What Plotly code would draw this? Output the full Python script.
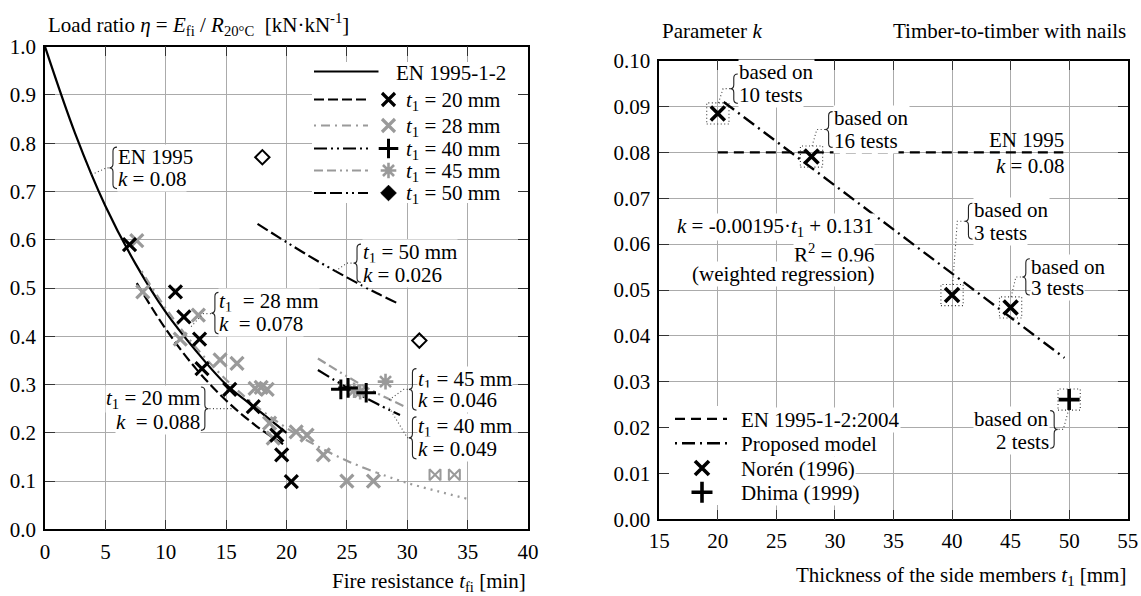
import plotly.graph_objects as go

W, H = 1141, 596
FONT = "Liberation Serif"
FS = 21
GRAY = "#9a9a9a"
DOT = "1px,2.5px"

# ---------------- Left chart data ----------------
left_xticks = [0, 5, 10, 15, 20, 25, 30, 35, 40]
left_yticks = [0.0, 0.1, 0.2, 0.3, 0.4, 0.5, 0.6, 0.7, 0.8, 0.9, 1.0]

en_t = [0, 2.5, 5, 7.5, 10, 12.5, 15, 17.5, 20]
en_eta = [1.0, 0.82, 0.67, 0.55, 0.45, 0.37, 0.30, 0.25, 0.20]

l20_t = [7.6, 10, 12.5, 15, 17.5, 20]
l20_eta = [0.51, 0.415, 0.333, 0.267, 0.214, 0.172]

l28_t = [8.0, 10, 12.5, 15, 17.5, 20, 22.5, 25, 27.5]
l28_eta = [0.535, 0.458, 0.377, 0.31, 0.255, 0.21, 0.173, 0.142, 0.117]
l28x_t = [27.5, 30, 32.5, 35]
l28x_eta = [0.117, 0.096, 0.079, 0.063]

l40_t = [22.6, 25, 27.5, 29.4]
l40_eta = [0.33, 0.294, 0.26, 0.237]

l45_t = [22.6, 25, 27.5, 30]
l45_eta = [0.354, 0.317, 0.282, 0.252]

l50_t = [17.6, 20, 22.5, 25, 27.5, 29.4]
l50_eta = [0.633, 0.595, 0.557, 0.522, 0.489, 0.466]

p20_t = [7.0, 10.8, 11.5, 12.8, 13.0, 15.3, 17.25, 19.2, 19.6, 20.4]
p20_eta = [0.59, 0.492, 0.44, 0.394, 0.333, 0.29, 0.254, 0.195, 0.154, 0.099]

p28_t = [7.6, 8.1, 11.2, 12.7, 14.5, 15.9, 17.4, 17.9, 18.4, 18.6, 18.9, 20.8, 21.7, 23.05, 25.0, 27.2]
p28_eta = [0.598, 0.492, 0.394, 0.444, 0.351, 0.344, 0.292, 0.294, 0.29, 0.22, 0.189, 0.202, 0.195, 0.154, 0.10, 0.10]

p40_t = [24.5, 25.1, 26.6]
p40_eta = [0.29, 0.293, 0.283]

p45_t = [25.6, 26.1, 28.2]
p45_eta = [0.288, 0.285, 0.306]

p50_t = [18.0, 31.0]
p50_eta = [0.771, 0.391]

run_t = [32.3, 33.9]
run_eta = [0.113, 0.113]

# ---------------- Right chart data ----------------
right_xticks = [15, 20, 25, 30, 35, 40, 45, 50, 55]
right_yticks = [0.00, 0.01, 0.02, 0.03, 0.04, 0.05, 0.06, 0.07, 0.08, 0.09, 0.10]

noren_t1 = [20, 28, 40, 45]
noren_k = [0.0885, 0.0791, 0.0489, 0.0462]
noren_tests = [10, 16, 3, 3]
dhima_t1 = [50]
dhima_k = [0.0261]
dhima_tests = [2]

en_k_t1 = [20, 49.5]
en_k_val = [0.08, 0.08]
model_t1 = [20.5, 49.6]
model_k = [0.0910, 0.0352]

# ---------------- geometry (screen pixels) ----------------
LX0, LX1, LYB, LYT = 45.0, 528.0, 529.3, 46.7
RX0, RX1, RYB, RYT = 659.3, 1127.7, 519.3, 60.7
LXR, LYR = [0, 40], [0, 1.0]
RXR, RYR = [15, 55], [0, 0.1]
LSX = (LX1 - LX0) / (LXR[1] - LXR[0])
LSY = (LYB - LYT) / (LYR[1] - LYR[0])
RSX = (RX1 - RX0) / (RXR[1] - RXR[0])
RSY = (RYB - RYT) / (RYR[1] - RYR[0])


def Lx(px): return LXR[0] + (px - LX0) / LSX
def Ly(py): return LYR[0] + (LYB - py) / LSY
def Rx(px): return RXR[0] + (px - RX0) / RSX
def Ry(py): return RYR[0] + (RYB - py) / RSY


fig = go.Figure()

STY = {
    "en": dict(line=dict(color="black", width=2.2)),
    "20": dict(line=dict(color="black", width=2.2, dash="10px,4px"),
               marker=dict(symbol="x-thin", size=13, color="black", line=dict(width=3.2, color="black"))),
    "28": dict(line=dict(color=GRAY, width=2.2, dash="2px,5px,9px,5px"),
               marker=dict(symbol="x-thin", size=13, color=GRAY, line=dict(width=3.2, color=GRAY))),
    "40": dict(line=dict(color="black", width=2.2, dash="13px,4px,2px,4px,2px,4px"),
               marker=dict(symbol="cross-thin", size=14, color="black", line=dict(width=3.0, color="black"))),
    "45": dict(line=dict(color=GRAY, width=2.2, dash="9px,4px,9px,4px,2px,4px,2px,4px"),
               marker=dict(symbol="asterisk", size=13, color=GRAY, line=dict(width=2.6, color=GRAY))),
    "50": dict(line=dict(color="black", width=2.2, dash="12px,4px,12px,4px,2px,4px,2px,4px"),
               marker=dict(symbol="diamond", size=12, color="black", line=dict(width=1, color="black"))),
}


def add_line(x, y, style, xa="x", ya="y", dash=None):
    ln = dict(style["line"])
    if dash:
        ln["dash"] = dash
    fig.add_trace(go.Scatter(x=x, y=y, mode="lines", line=ln, line_shape="spline",
                             xaxis=xa, yaxis=ya, hoverinfo="skip", showlegend=False))


def add_markers(x, y, marker, xa="x", ya="y"):
    fig.add_trace(go.Scatter(x=x, y=y, mode="markers", marker=marker,
                             xaxis=xa, yaxis=ya, hoverinfo="skip", showlegend=False))


# left curves
add_line(en_t, en_eta, STY["en"])
add_line(l20_t, l20_eta, STY["20"])
add_line(l28_t, l28_eta, STY["28"])
add_line(l28x_t, l28x_eta, STY["28"], dash="2px,5px")
add_line(l40_t, l40_eta, STY["40"])
add_line(l45_t, l45_eta, STY["45"])
add_line(l50_t, l50_eta, STY["50"])

# left markers
add_markers(p28_t, p28_eta, STY["28"]["marker"])
add_markers(p45_t, p45_eta, STY["45"]["marker"])
add_markers(p20_t, p20_eta, STY["20"]["marker"])
add_markers(p40_t, p40_eta, STY["40"]["marker"])
add_markers(p50_t, p50_eta, dict(symbol="diamond-open", size=11, color="black", line=dict(width=2, color="black")))
add_markers(run_t, run_eta, dict(symbol="bowtie-open", size=11, color=GRAY, line=dict(width=2, color=GRAY)))

# right lines & markers
fig.add_trace(go.Scatter(x=en_k_t1, y=en_k_val, mode="lines", xaxis="x2", yaxis="y2",
                         line=dict(color="black", width=2.4, dash="10px,6px"), hoverinfo="skip", showlegend=False))
fig.add_trace(go.Scatter(x=model_t1, y=model_k, mode="lines", xaxis="x2", yaxis="y2",
                         line=dict(color="black", width=2.4, dash="13px,5px,2px,5px"), hoverinfo="skip", showlegend=False))
MK_X = dict(symbol="x-thin", size=14, color="black", line=dict(width=3.6, color="black"))
MK_P = dict(symbol="cross-thin", size=15, color="black", line=dict(width=3.6, color="black"))
add_markers(noren_t1, noren_k, MK_X, "x2", "y2")
add_markers(dhima_t1, dhima_k, MK_P, "x2", "y2")

shapes = []
annotations = []


def text(x, y, s, xref, yref, xanchor="left", bg=True, size=FS):
    annotations.append(dict(x=x, y=y, xref=xref, yref=yref, text=s, showarrow=False,
                            xanchor=xanchor, yanchor="middle",
                            font=dict(family=FONT, size=size, color="black"),
                            bgcolor="white" if bg else "rgba(0,0,0,0)", borderpad=0))


def leader(pts, xref, yref):
    p = "M " + " L ".join(f"{x},{y}" for x, y in pts)
    shapes.append(dict(type="path", path=p, xref=xref, yref=yref, layer="above",
                       line=dict(color="#444", width=1.1, dash=DOT)))


def brace(x, y0, y1, sx, sy, xref, yref, side=1):
    w = 4.0 / sx * side
    pd = 3.5 / sx * side
    r = 4.0 / sy
    ym = (y0 + y1) / 2
    p = (f"M {x + w},{y1} Q {x},{y1} {x},{y1 - r} L {x},{ym + r} "
         f"Q {x},{ym} {x - pd},{ym} Q {x},{ym} {x},{ym - r} L {x},{y0 + r} "
         f"Q {x},{y0} {x + w},{y0}")
    shapes.append(dict(type="path", path=p, xref=xref, yref=yref, layer="above",
                       line=dict(color="#222", width=1.1)))


T1 = "<i>t</i><sub>1</sub>"
K = "<i>k</i>"

# ---- left annotations ----
brace(5.63, 0.706, 0.792, LSX, LSY, "x", "y")
leader([(3.85, 0.735), (5.1, 0.749), (5.55, 0.749)], "x", "y")
text(5.98, 0.771, "EN 1995", "x", "y")
text(5.98, 0.726, f"{K} = 0.08", "x", "y")

brace(25.84, 0.512, 0.591, LSX, LSY, "x", "y")
leader([(24.06, 0.535), (25.0, 0.5515), (25.75, 0.5515)], "x", "y")
text(26.25, 0.573, f"{T1} = 50 mm", "x", "y")
text(26.25, 0.526, f"{K} = 0.026", "x", "y")

brace(14.07, 0.405, 0.491, LSX, LSY, "x", "y")
leader([(12.1, 0.42), (13.1, 0.447), (13.98, 0.447)], "x", "y")
text(14.34, 0.471, f"{T1}  = 28 mm", "x", "y")
text(14.34, 0.426, f"{K}  = 0.078", "x", "y")

brace(13.24, 0.205, 0.295, LSX, LSY, "x", "y", side=-1)
leader([(13.33, 0.25), (15.5, 0.25)], "x", "y")
text(12.95, 0.271, f"{T1} = 20 mm", "x", "y", xanchor="right")
text(12.95, 0.222, f"{K}  = 0.088", "x", "y", xanchor="right")

brace(30.43, 0.247, 0.333, LSX, LSY, "x", "y")
leader([(28.5, 0.268), (29.7, 0.29), (30.35, 0.29)], "x", "y")
text(30.8, 0.31, f"{T1} = 45 mm", "x", "y")
text(30.8, 0.267, f"{K} = 0.046", "x", "y")

brace(30.43, 0.146, 0.233, LSX, LSY, "x", "y")
leader([(28.5, 0.252), (30.0, 0.19), (30.35, 0.19)], "x", "y")
text(30.8, 0.211, f"{T1} = 40 mm", "x", "y")
text(30.8, 0.167, f"{K} = 0.049", "x", "y")

# ---- left legend ----
shapes.append(dict(type="rect", xref="x", yref="y", x0=Lx(312), x1=Lx(520), y0=Ly(203), y1=Ly(62),
                   fillcolor="white", line=dict(width=0), layer="between"))
leg_rows = [("en", "EN 1995-1-2", 71.5, 378.5, 395),
            ("20", f"{T1} = 20 mm", 99.5, 368, 405),
            ("28", f"{T1} = 28 mm", 125.5, 368, 405),
            ("40", f"{T1} = 40 mm", 148.5, 368, 405),
            ("45", f"{T1} = 45 mm", 170.5, 368, 405),
            ("50", f"{T1} = 50 mm", 193.0, 368, 405)]
for key, label, py, xend, xtxt in leg_rows:
    st = STY[key]
    fig.add_trace(go.Scatter(x=[Lx(314), Lx(xend)], y=[Ly(py), Ly(py)], mode="lines", line=st["line"],
                             xaxis="x", yaxis="y", hoverinfo="skip", showlegend=False))
    if "marker" in st:
        add_markers([Lx(388.5)], [Ly(py)], st["marker"])
    text(Lx(xtxt), Ly(py + 1), label, "x", "y", bg=False)

# ---- right annotations ----
for t, kv in zip(noren_t1 + dhima_t1, noren_k + dhima_k):
    shapes.append(dict(type="rect", xref="x2", yref="y2", x0=t - 0.95, x1=t + 0.95,
                       y0=kv - 0.0023, y1=kv + 0.0023, layer="above",
                       line=dict(color="#333", width=1.1, dash=DOT)))

tests = noren_tests + dhima_tests
rb = [(21.36, 0.0907, 0.0971, 21.72, 0.0975, 0.0926),
      (29.46, 0.0811, 0.0889, 29.82, 0.0875, 0.0826),
      (41.40, 0.0611, 0.0689, 41.76, 0.0674, 0.0625),
      (46.30, 0.0489, 0.0568, 46.66, 0.0550, 0.0504)]
for (bx, b0, b1, tx, ty1, ty2), (t, kv), n in zip(rb, zip(noren_t1, noren_k), tests):
    brace(bx, b0, b1, RSX, RSY, "x2", "y2")
    ym = (b0 + b1) / 2
    leader([(t + 0.05, kv + 0.0023), (t + 0.45, ym), (bx - 0.1, ym)], "x2", "y2")
    text(tx, ty1, "based on", "x2", "y2")
    text(tx, ty2, f"{n} tests", "x2", "y2")

brace(48.72, 0.0155, 0.0237, RSX, RSY, "x2", "y2", side=-1)
leader([(48.8, 0.0196), (49.5, 0.0196), (dhima_t1[0] - 0.05, dhima_k[0] - 0.0023)], "x2", "y2")
text(48.35, 0.0219, "based on", "x2", "y2", xanchor="right")
text(48.35, 0.0169, f"{dhima_tests[0]} tests", "x2", "y2", xanchor="right")

text(49.65, 0.0828, "EN 1995", "x2", "y2", xanchor="right", bg=False)
text(49.65, 0.0770, f"{K} = 0.08", "x2", "y2", xanchor="right", bg=False)

text(33.4, 0.0637, f"{K} = -0.00195·{T1} + 0.131", "x2", "y2", xanchor="right")
text(33.4, 0.0580, "R<sup>2</sup> = 0.96", "x2", "y2", xanchor="right")
text(33.5, 0.0534, "(weighted regression)", "x2", "y2", xanchor="right")

# ---- right legend ----
shapes.append(dict(type="rect", xref="x2", yref="y2", x0=Rx(668), x1=Rx(742), y0=Ry(505), y1=Ry(406),
                   fillcolor="white", line=dict(width=0), layer="between"))
r_rows = [("EN 1995-1-2:2004", 418.9, dict(color="black", width=2.4, dash="10px,6px"), None),
          ("Proposed model", 443.2, dict(color="black", width=2.4, dash="2px,5px,13px,5px"), None),
          ("Norén (1996)", 467.9, None, MK_X),
          ("Dhima (1999)", 492.2, None, MK_P)]
for label, py, ln, mk in r_rows:
    if ln:
        fig.add_trace(go.Scatter(x=[Rx(675), Rx(727)], y=[Ry(py), Ry(py)], mode="lines", line=ln,
                                 xaxis="x2", yaxis="y2", hoverinfo="skip", showlegend=False))
    if mk:
        add_markers([Rx(702)], [Ry(py)], mk, "x2", "y2")
    text(Rx(740), Ry(py + 1), label, "x2", "y2")


# ---- titles (paper coords) ----
def ptext(px, py, s, xanchor="left"):
    annotations.append(dict(x=px / W, y=1 - py / H, xref="paper", yref="paper", text=s, showarrow=False,
                            xanchor=xanchor, yanchor="middle",
                            font=dict(family=FONT, size=FS, color="black")))


ptext(46, 25, "Load ratio <i>η</i> = <i>E</i><sub>fi</sub> / <i>R</i><sub>20°C</sub>  [kN·kN<sup>-1</sup>]")
ptext(528, 582, "Fire resistance <i>t</i><sub>fi</sub> [min]", "right")
ptext(660, 31, f"Parameter {K}")
ptext(1128, 31, "Timber-to-timber with nails", "right")
ptext(1128, 576, f"Thickness of the side members {T1} [mm]", "right")

axis_common = dict(showline=True, linecolor="black", linewidth=1.5, mirror="ticks",
                   ticks="inside", ticklen=10, tickwidth=1.3, tickcolor="#333",
                   showgrid=True, gridcolor="#ababab", gridwidth=1.2, zeroline=False,
                   tickfont=dict(family=FONT, size=FS, color="black"), fixedrange=True)

fig.update_layout(
    autosize=True, margin=dict(l=0, r=0, t=0, b=0, autoexpand=False),
    paper_bgcolor="white", plot_bgcolor="white", showlegend=False,
    xaxis=dict(domain=[LX0 / W, LX1 / W], range=LXR, tickvals=left_xticks,
               ticktext=[str(v) for v in left_xticks], anchor="y", ticklabelstandoff=3, **axis_common),
    yaxis=dict(domain=[1 - LYB / H, 1 - LYT / H], range=LYR, tickvals=left_yticks,
               ticktext=[f"{v:.1f}" for v in left_yticks], anchor="x", ticklabelstandoff=3, **axis_common),
    xaxis2=dict(domain=[RX0 / W, RX1 / W], range=RXR, tickvals=right_xticks,
                ticktext=[str(v) for v in right_xticks], anchor="y2", ticklabelstandoff=2, **axis_common),
    yaxis2=dict(domain=[1 - RYB / H, 1 - RYT / H], range=RYR, tickvals=right_yticks,
                ticktext=[f"{v:.2f}" for v in right_yticks], anchor="x2", ticklabelstandoff=3, **axis_common),
    shapes=shapes, annotations=annotations,
)

fig.write_html("out.html",
               config={"displayModeBar": False},
               default_width=f"{W}px;position:absolute;left:0;top:0;margin:0",
               default_height=f"{H}px")
